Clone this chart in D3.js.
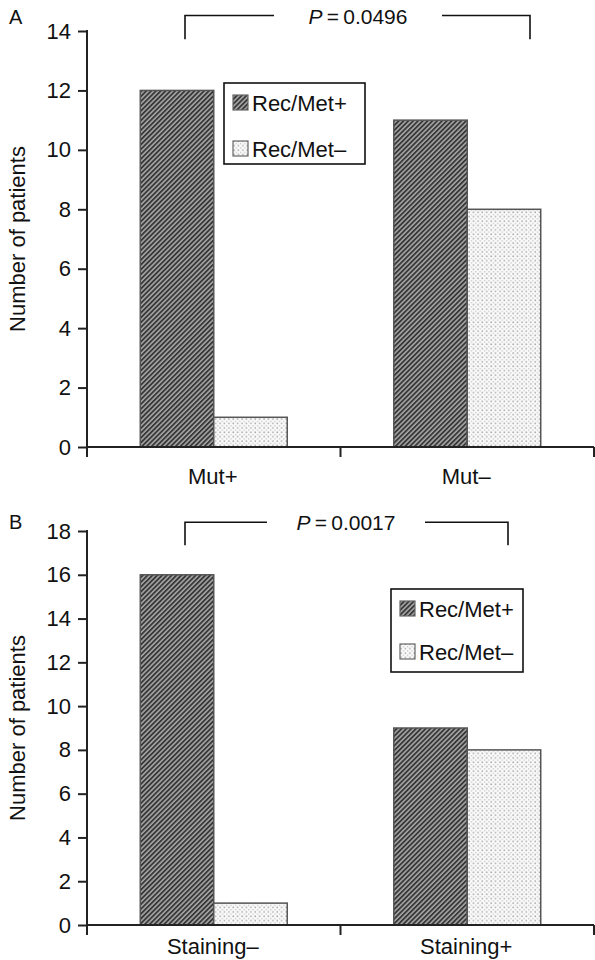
<!DOCTYPE html>
<html>
<head>
<meta charset="utf-8">
<script src="https://cdn.jsdelivr.net/npm/d3@7"></script>
<style>
  html, body { margin: 0; padding: 0; background: #fff; }
  svg { display: block; font-family: "Liberation Sans", Arial, Helvetica, sans-serif; }
</style>
</head>
<body>
<svg id="chart" width="595" height="960"></svg>
<script>
// ---------- data ----------
const seriesNames = ["Rec/Met+", "Rec/Met–"];

const categoriesA = ["Mut+", "Mut–"];
const recMetPosA = [12, 11];
const recMetNegA = [1, 8];
const ticksA = [0, 2, 4, 6, 8, 10, 12, 14];
const pValueA = "0.0496";

const categoriesB = ["Staining–", "Staining+"];
const recMetPosB = [16, 9];
const recMetNegB = [1, 8];
const ticksB = [0, 2, 4, 6, 8, 10, 12, 14, 16, 18];
const pValueB = "0.0017";

const yTitle = "Number of patients";

// ---------- setup ----------
const FS = 22;
const svg = d3.select("#chart");
const defs = svg.append("defs");

const hatch = defs.append("pattern")
  .attr("id", "hatch").attr("patternUnits", "userSpaceOnUse")
  .attr("width", 3.4).attr("height", 3.4)
  .attr("patternTransform", "rotate(45)");
hatch.append("rect").attr("width", 3.4).attr("height", 3.4).attr("fill", "#a4a4a4");
hatch.append("rect").attr("x", 0).attr("y", 0).attr("width", 1.8).attr("height", 3.4).attr("fill", "#383838");

const dots = defs.append("pattern")
  .attr("id", "dots").attr("patternUnits", "userSpaceOnUse")
  .attr("width", 4.4).attr("height", 4.4);
dots.append("rect").attr("width", 4.4).attr("height", 4.4).attr("fill", "#fafafa");
dots.append("circle").attr("cx", 1.1).attr("cy", 1.1).attr("r", 0.85).attr("fill", "#a8a8a8");
dots.append("circle").attr("cx", 3.3).attr("cy", 3.3).attr("r", 0.75).attr("fill", "#c0c0c0");

const fills = d3.scaleOrdinal().domain(seriesNames).range(["url(#hatch)", "url(#dots)"]);

function drawPanel(cfg) {
  const g = svg.append("g");
  const x = d3.scaleBand().domain(cfg.categories).range([cfg.left, cfg.right]).padding(0);
  const xs = d3.scaleBand().domain(seriesNames).range([0, x.bandwidth()])
    .paddingInner(0).paddingOuter(0.725);
  const y = d3.scaleLinear().domain([0, d3.max(cfg.ticks)]).range([cfg.bottom, cfg.top]);

  const rows = cfg.categories.map((c, i) => ({ cat: c, values: [
    { s: seriesNames[0], v: cfg.pos[i] }, { s: seriesNames[1], v: cfg.neg[i] } ] }));

  // bars
  const grp = g.selectAll("g.grp").data(rows).join("g")
    .attr("transform", d => `translate(${x(d.cat)},0)`);
  grp.selectAll("rect").data(d => d.values).join("rect")
    .attr("x", d => xs(d.s))
    .attr("y", d => y(d.v))
    .attr("width", xs.bandwidth())
    .attr("height", d => y(0) - y(d.v))
    .attr("fill", d => fills(d.s))
    .attr("stroke", "#555").attr("stroke-width", 1.5);

  // y axis
  const yAxis = d3.axisLeft(y).tickValues(cfg.ticks).tickSize(9).tickPadding(7);
  const ya = g.append("g").attr("transform", `translate(${cfg.left},0)`).call(yAxis);
  ya.select(".domain").remove();
  ya.selectAll(".tick line").attr("stroke", "#222").attr("stroke-width", 2);
  ya.selectAll(".tick text").attr("font-size", FS).attr("fill", "#111")
    .attr("font-family", "Liberation Sans, Arial, sans-serif");
  g.append("line").attr("x1", cfg.left).attr("x2", cfg.left)
    .attr("y1", y(d3.max(cfg.ticks)) - 1).attr("y2", y(0) + 10)
    .attr("stroke", "#222").attr("stroke-width", 2);

  // x axis
  g.append("line").attr("x1", cfg.left).attr("x2", cfg.right)
    .attr("y1", y(0)).attr("y2", y(0)).attr("stroke", "#222").attr("stroke-width", 2);
  g.selectAll("line.xt").data(cfg.categories).join("line").attr("class", "xt")
    .attr("x1", d => x(d) + x.step()).attr("x2", d => x(d) + x.step())
    .attr("y1", y(0)).attr("y2", y(0) + 10).attr("stroke", "#222").attr("stroke-width", 2);
  g.selectAll("text.xl").data(cfg.categories).join("text").attr("class", "xl")
    .attr("x", d => x(d) + x.bandwidth() / 2 - 1)
    .attr("y", y(0) + cfg.labelOffset)
    .attr("text-anchor", "middle").attr("font-size", FS).attr("fill", "#111")
    .text(d => d);

  // y title
  g.append("text")
    .attr("transform", `translate(25,${(y(0) + y(d3.max(cfg.ticks))) / 2}) rotate(-90)`)
    .attr("text-anchor", "middle").attr("font-size", FS).attr("fill", "#111")
    .text(yTitle);

  // panel letter
  g.append("text").attr("x", 9).attr("y", cfg.letterY)
    .attr("font-size", 20).attr("fill", "#111").text(cfg.letter);

  // p-value bracket
  const bTop = y(cfg.bracketTop), bBot = y(cfg.bracketBot);
  const b = cfg.bracket;
  g.append("path")
    .attr("d", `M${b[0]},${bBot}V${bTop}H${b[1]}M${b[2]},${bTop}H${b[3]}V${bBot}`)
    .attr("fill", "none").attr("stroke", "#111").attr("stroke-width", 1.6);
  const pt = g.append("text").attr("x", (b[1] + b[2]) / 2).attr("y", bTop + 8)
    .attr("text-anchor", "middle").attr("font-size", 21).attr("fill", "#111");
  pt.append("tspan").attr("font-style", "italic").text("P");
  pt.append("tspan").text("\u2009=\u2009" + cfg.p);

  // legend
  const L = cfg.legend;
  g.append("rect").attr("x", L.x).attr("y", L.y).attr("width", L.w).attr("height", L.h)
    .attr("fill", "#fff").attr("stroke", "#111").attr("stroke-width", 1.6);
  const li = g.selectAll("g.li").data(seriesNames).join("g").attr("class", "li")
    .attr("transform", (d, i) => `translate(${L.x + 9},${L.y + L.rowY[i]})`);
  li.append("rect").attr("x", 0).attr("y", -8).attr("width", 15).attr("height", 15)
    .attr("fill", d => fills(d)).attr("stroke", "#666").attr("stroke-width", 1.2);
  li.append("text").attr("x", 19).attr("y", 8).attr("font-size", FS).attr("fill", "#111")
    .text(d => d);
}

drawPanel({
  categories: categoriesA, pos: recMetPosA, neg: recMetNegA, ticks: ticksA, p: pValueA,
  left: 87, right: 594, top: 31, bottom: 447, labelOffset: 37,
  letter: "A", letterY: 24,
  bracket: [185, 274, 442, 530], bracketTop: 14.52, bracketBot: 13.72,
  legend: { x: 224, y: 83, w: 141, h: 81, rowY: [20, 66] }
});

drawPanel({
  categories: categoriesB, pos: recMetPosB, neg: recMetNegB, ticks: ticksB, p: pValueB,
  left: 87, right: 594, top: 531, bottom: 925, labelOffset: 29,
  letter: "B", letterY: 529,
  bracket: [185, 267, 425, 508], bracketTop: 18.4, bracketBot: 17.35,
  legend: { x: 391, y: 589, w: 132, h: 83, rowY: [20, 63] }
});
</script>
</body>
</html>
